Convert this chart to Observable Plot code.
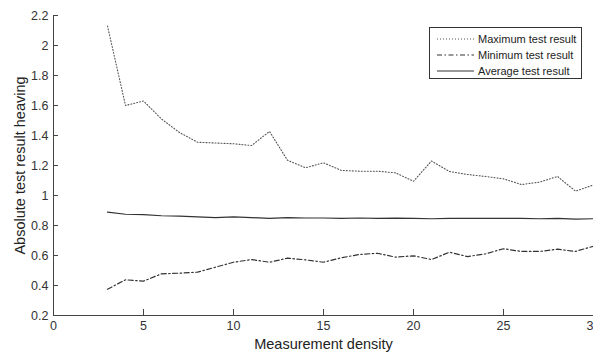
<!DOCTYPE html>
<html>
<head>
<meta charset="utf-8">
<script src="https://cdn.jsdelivr.net/npm/d3@7"></script>
<script src="https://cdn.jsdelivr.net/npm/@observablehq/plot@0.6"></script>
<style>
  html, body { margin: 0; padding: 0; background: #fff; overflow: hidden; }
  #wrap { position: relative; width: 593px; height: 353px; font-family: "Liberation Sans", Arial, sans-serif; }
  #legend { position: absolute; left: 429px; top: 27px; width: 153px; height: 52px; border: 1px solid #333; background: #fff; box-sizing: border-box; padding-top: 3px; }
  .row { display: flex; align-items: center; height: 16px; font-size: 11px; color: #222; white-space: nowrap; }
  .row svg { margin-left: 7px; margin-right: 4px; flex: none; }
</style>
</head>
<body>
<div id="wrap"></div>
<script>
const xs = [3,4,5,6,7,8,9,10,11,12,13,14,15,16,17,18,19,20,21,22,23,24,25,26,27,28,29,30];
const maxVals = [2.13,1.60,1.63,1.51,1.42,1.355,1.35,1.345,1.333,1.427,1.235,1.185,1.218,1.167,1.162,1.162,1.151,1.095,1.23,1.16,1.14,1.127,1.111,1.073,1.089,1.127,1.029,1.07];
const minVals = [0.375,0.438,0.429,0.478,0.482,0.489,0.522,0.555,0.573,0.555,0.582,0.571,0.555,0.585,0.607,0.615,0.589,0.598,0.573,0.622,0.593,0.611,0.645,0.627,0.627,0.642,0.627,0.662];
const avgVals = [0.889,0.875,0.872,0.865,0.862,0.857,0.852,0.858,0.853,0.847,0.852,0.85,0.85,0.848,0.85,0.848,0.849,0.847,0.845,0.848,0.848,0.848,0.847,0.847,0.845,0.847,0.843,0.845];
const seriesNames = ["Maximum test result", "Minimum test result", "Average test result"];
const xTicks = [0,5,10,15,20,25,30];
const yTicks = [0.2,0.4,0.6,0.8,1,1.2,1.4,1.6,1.8,2,2.2];
const xLabel = "Measurement density";
const yLabel = "Absolute test result heaving";

const styles = [
  {stroke: "#555", strokeWidth: 1.1, dash: "1,2"},
  {stroke: "#333", strokeWidth: 1.2, dash: "5,2.5,1.5,2.5"},
  {stroke: "#333", strokeWidth: 1.2, dash: null}
];
const seriesVals = [maxVals, minVals, avgVals];
const data = seriesVals.map((vals, s) => xs.map((x, i) => ({x, y: vals[i], s})));

const axisColor = "#444";
const marks = [
  Plot.ruleX([0], {stroke: axisColor}),
  Plot.ruleY([0.2], {stroke: axisColor}),
  Plot.ruleY(yTicks, {y: d => d, x1: 0, x2: 0.28, stroke: axisColor}),
  Plot.ruleX(xTicks, {x: d => d, y1: 0.2, y2: 0.24, stroke: axisColor}),
  Plot.axisY({ticks: yTicks, tickSize: 0, tickPadding: 5, tickFormat: d => String(d), fontSize: 12.5, fill: "#333", label: null}),
  Plot.axisX({ticks: xTicks, tickSize: 0, tickPadding: 6, tickFormat: d => String(d), fontSize: 12.5, fill: "#333", label: null}),
  Plot.text([yLabel], {text: d => d, frameAnchor: "left", textAnchor: "middle", rotate: -90, dx: -33, fontSize: 14.5, fill: "#222"}),
  Plot.text([xLabel], {text: d => d, frameAnchor: "bottom", textAnchor: "middle", lineAnchor: "top", dy: 23, fontSize: 14.5, fill: "#222"})
];
data.forEach((d, s) => {
  const st = styles[s];
  const opts = {x: "x", y: "y", stroke: st.stroke, strokeWidth: st.strokeWidth};
  if (st.dash) opts.strokeDasharray = st.dash;
  marks.push(Plot.line(d, opts));
});

const chart = Plot.plot({
  width: 593,
  height: 353,
  marginLeft: 53,
  marginRight: 0,
  marginTop: 15,
  marginBottom: 38,
  style: {fontFamily: "Liberation Sans, Arial, sans-serif", background: "#fff", overflow: "hidden"},
  x: {domain: [0, 30]},
  y: {domain: [0.2, 2.2]},
  marks
});
const wrap = document.getElementById("wrap");
wrap.appendChild(chart);

const legend = document.createElement("div");
legend.id = "legend";
seriesNames.forEach((name, s) => {
  const st = styles[s];
  const row = document.createElement("div");
  row.className = "row";
  row.innerHTML = `<svg width="37" height="6"><line x1="0" x2="37" y1="3" y2="3" stroke="${st.stroke}" stroke-width="${st.strokeWidth}" ${st.dash ? `stroke-dasharray="${st.dash}"` : ""}/></svg><span>${name}</span>`;
  legend.appendChild(row);
});
wrap.appendChild(legend);
</script>
</body>
</html>
